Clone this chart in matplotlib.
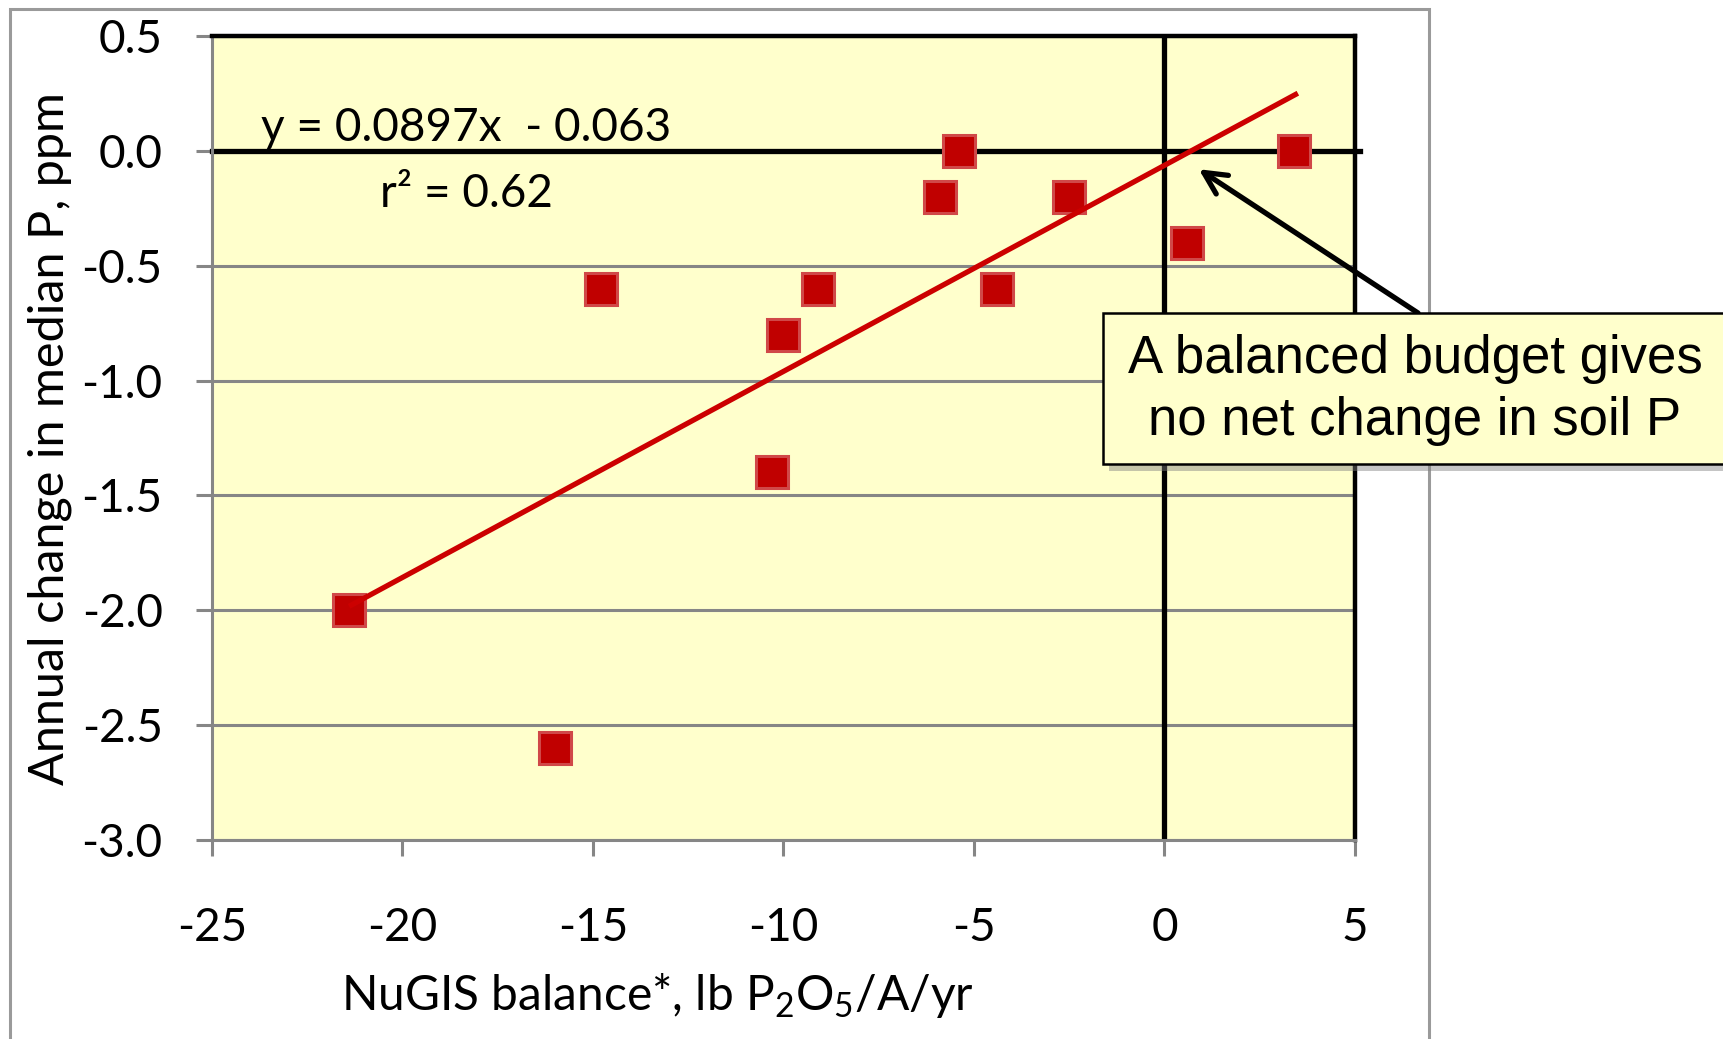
import numpy as np
import matplotlib.pyplot as plt
from matplotlib.patches import Rectangle

# data
balance = [-21.4, -16.0, -14.8, -10.3, -10.0, -9.1, -5.9, -5.4, -4.4, -2.5, 0.6, 3.4]
p_change = [-2.0, -2.6, -0.6, -1.4, -0.8, -0.6, -0.2, 0.0, -0.6, -0.2, -0.4, 0.0]
slope = 0.0897
intercept = -0.063
r2 = 0.62
x_ticks = [-25, -20, -15, -10, -5, 0, 5]
y_ticks = [0.5, 0.0, -0.5, -1.0, -1.5, -2.0, -2.5, -3.0]
note = "A balanced budget gives\nno net change in soil P"

W, H = 1724, 1039
plt.rcParams['font.family'] = ['Lato', 'DejaVu Sans']
plt.rcParams['axes.unicode_minus'] = False
plt.rcParams['mathtext.default'] = 'regular'

GRAY = '#868686'


def fx(px):
    return px / W


def fy(py):
    return 1 - py / H


fig = plt.figure(figsize=(W / 100, H / 100), dpi=100)

# outer chart border
fig.patches.append(Rectangle((fx(10), -0.1), fx(1429) - fx(10), fy(9) + 0.1,
                             transform=fig.transFigure, fill=False,
                             ec='#9A9A9A', lw=2.2, zorder=0))

ax = fig.add_axes([fx(212), fy(840), fx(1355) - fx(212), fy(36) - fy(840)])
ax.set_facecolor('#FFFFCC')
ax.set_xlim(-25, 5)
ax.set_ylim(-3, 0.5)
ax.set_xticks(x_ticks)
ax.set_xticklabels([str(v) for v in x_ticks])
ax.set_yticks(y_ticks)
ax.set_yticklabels([f'{v:.1f}' for v in y_ticks])
ax.grid(axis='y', color=GRAY, lw=2.2)
ax.set_axisbelow(True)
for s in ['left', 'bottom']:
    ax.spines[s].set_color(GRAY)
    ax.spines[s].set_linewidth(2.2)
for s in ['top', 'right']:
    ax.spines[s].set_color('black')
    ax.spines[s].set_linewidth(3.2)
ax.tick_params(length=11.5, width=2.2, color=GRAY, labelsize=33)
ax.tick_params(axis='x', pad=37)
ax.tick_params(axis='y', pad=24)

# zero lines
ax.axvline(0, color='black', lw=3.8, zorder=2)
ax.axhline(0, xmin=0, xmax=1.004, color='black', lw=3.8, clip_on=False, zorder=2)

# data points + trend line
ax.plot(balance, p_change, 's', ms=22.5, mfc='#C00000', mec='#D04848', mew=2.2,
        ls='none', zorder=4)
xfit = np.array([min(balance), max(balance) + 0.1])
ax.plot(xfit, slope * xfit + intercept, color='#CC0000', lw=3.8, zorder=5,
        solid_capstyle='butt')

ax.text(-18.33, 0.10, f'y = {slope}x  - {abs(intercept)}', ha='center',
        va='center', fontsize=33)
ax.text(-18.33, -0.187, f'r² = {r2}', ha='center', va='center', fontsize=33)

# arrow to the break-even point
ax.annotate('', xy=(0.9, -0.08), xycoords='data',
            xytext=(fx(1418), fy(313)), textcoords='figure fraction',
            arrowprops=dict(arrowstyle='->', color='black', lw=3.8,
                            mutation_scale=40, shrinkA=0, shrinkB=0),
            annotation_clip=False)

# callout box with shadow
fig.patches.append(Rectangle((fx(1109), fy(471)), fx(1790) - fx(1109), fy(319) - fy(471),
                             transform=fig.transFigure, fc='#808080', ec='none',
                             alpha=0.45, zorder=5))
fig.patches.append(Rectangle((fx(1103), fy(464)), fx(1780) - fx(1103), fy(313) - fy(464),
                             transform=fig.transFigure, fc='#FFFFCC', ec='black',
                             lw=1.8, zorder=6))
fig.text(fx(1415), fy(390), note, ha='center', va='center', fontsize=38,
         family='Liberation Sans', linespacing=1.3, zorder=7)

# axis titles
fig.text(fx(657), fy(995), 'NuGIS balance*, lb P$_2$O$_5$/A/yr', ha='center',
         va='center', fontsize=34.5)
fig.text(fx(50), fy(439), 'Annual change in median P, ppm', rotation=90,
         ha='center', va='center', fontsize=35)

fig.savefig('out.png', dpi=100)
